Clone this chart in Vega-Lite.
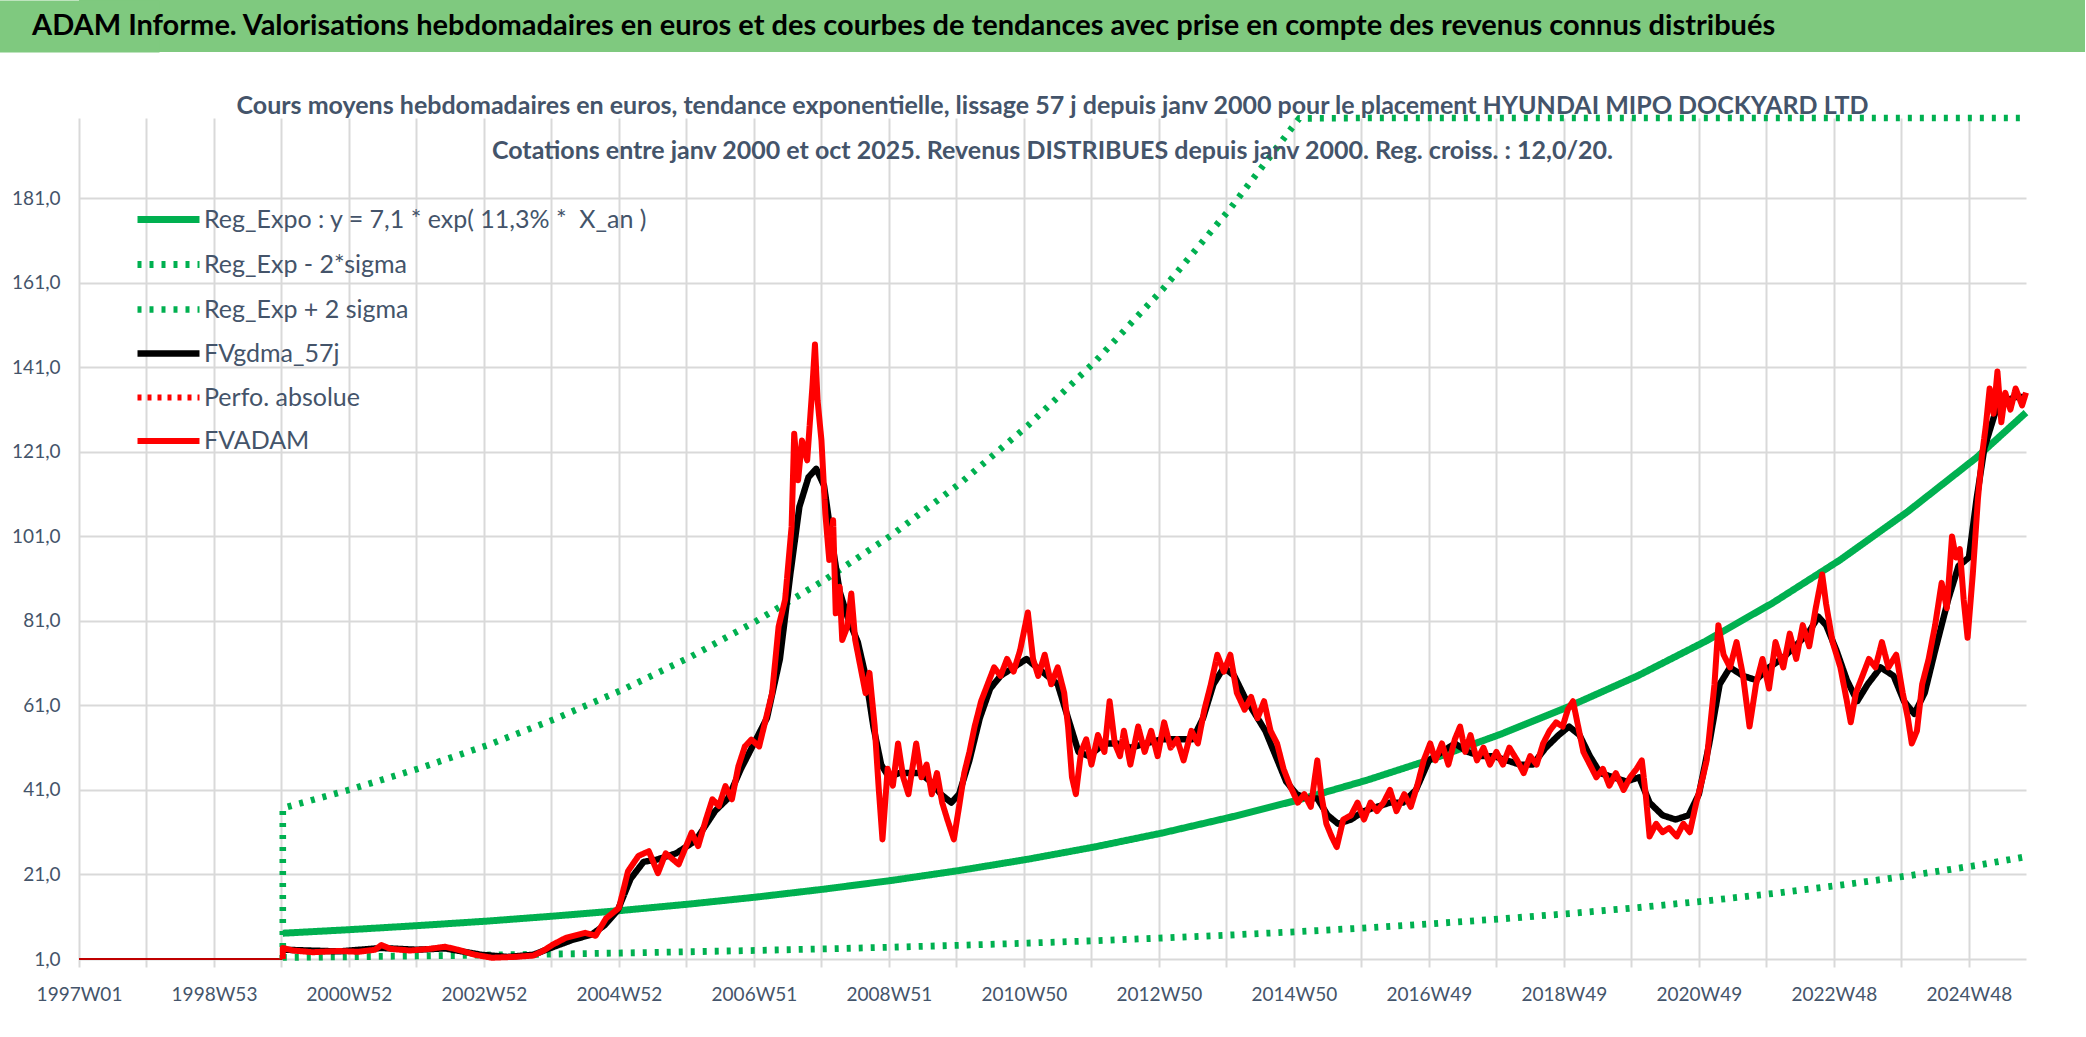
{
  "$schema": "https://vega.github.io/schema/vega-lite/v6.json",
  "background": "white",
  "padding": 0,
  "columns": 1,
  "align": "none",
  "spacing": 41,
  "config": {
    "font": "Lato, sans-serif",
    "view": {"stroke": null}
  },
  "datasets": {
    "base": [{"w": 0, "v": 1}, {"w": 157, "v": 1}],
    "lines": [
      {"s": "Reg_Expo : y = 7,1 * exp( 11,3% * \u00a0X_an )", "w": 157, "v": 7.10},
      {"s": "Reg_Expo : y = 7,1 * exp( 11,3% * \u00a0X_an )", "w": 209, "v": 7.95},
      {"s": "Reg_Expo : y = 7,1 * exp( 11,3% * \u00a0X_an )", "w": 261, "v": 8.90},
      {"s": "Reg_Expo : y = 7,1 * exp( 11,3% * \u00a0X_an )", "w": 314, "v": 9.96},
      {"s": "Reg_Expo : y = 7,1 * exp( 11,3% * \u00a0X_an )", "w": 366, "v": 11.16},
      {"s": "Reg_Expo : y = 7,1 * exp( 11,3% * \u00a0X_an )", "w": 418, "v": 12.49},
      {"s": "Reg_Expo : y = 7,1 * exp( 11,3% * \u00a0X_an )", "w": 470, "v": 13.99},
      {"s": "Reg_Expo : y = 7,1 * exp( 11,3% * \u00a0X_an )", "w": 522, "v": 15.66},
      {"s": "Reg_Expo : y = 7,1 * exp( 11,3% * \u00a0X_an )", "w": 574, "v": 17.53},
      {"s": "Reg_Expo : y = 7,1 * exp( 11,3% * \u00a0X_an )", "w": 627, "v": 19.63},
      {"s": "Reg_Expo : y = 7,1 * exp( 11,3% * \u00a0X_an )", "w": 679, "v": 21.98},
      {"s": "Reg_Expo : y = 7,1 * exp( 11,3% * \u00a0X_an )", "w": 731, "v": 24.61},
      {"s": "Reg_Expo : y = 7,1 * exp( 11,3% * \u00a0X_an )", "w": 783, "v": 27.55},
      {"s": "Reg_Expo : y = 7,1 * exp( 11,3% * \u00a0X_an )", "w": 835, "v": 30.85},
      {"s": "Reg_Expo : y = 7,1 * exp( 11,3% * \u00a0X_an )", "w": 887, "v": 34.54},
      {"s": "Reg_Expo : y = 7,1 * exp( 11,3% * \u00a0X_an )", "w": 940, "v": 38.67},
      {"s": "Reg_Expo : y = 7,1 * exp( 11,3% * \u00a0X_an )", "w": 992, "v": 43.29},
      {"s": "Reg_Expo : y = 7,1 * exp( 11,3% * \u00a0X_an )", "w": 1044, "v": 48.47},
      {"s": "Reg_Expo : y = 7,1 * exp( 11,3% * \u00a0X_an )", "w": 1096, "v": 54.27},
      {"s": "Reg_Expo : y = 7,1 * exp( 11,3% * \u00a0X_an )", "w": 1148, "v": 60.76},
      {"s": "Reg_Expo : y = 7,1 * exp( 11,3% * \u00a0X_an )", "w": 1201, "v": 68.03},
      {"s": "Reg_Expo : y = 7,1 * exp( 11,3% * \u00a0X_an )", "w": 1253, "v": 76.16},
      {"s": "Reg_Expo : y = 7,1 * exp( 11,3% * \u00a0X_an )", "w": 1305, "v": 85.27},
      {"s": "Reg_Expo : y = 7,1 * exp( 11,3% * \u00a0X_an )", "w": 1357, "v": 95.47},
      {"s": "Reg_Expo : y = 7,1 * exp( 11,3% * \u00a0X_an )", "w": 1409, "v": 106.89},
      {"s": "Reg_Expo : y = 7,1 * exp( 11,3% * \u00a0X_an )", "w": 1462, "v": 119.68},
      {"s": "Reg_Expo : y = 7,1 * exp( 11,3% * \u00a0X_an )", "w": 1500, "v": 130.3},

      {"s": "Reg_Exp - 2*sigma", "w": 157, "v": 1.37},
      {"s": "Reg_Exp - 2*sigma", "w": 209, "v": 1.54},
      {"s": "Reg_Exp - 2*sigma", "w": 261, "v": 1.72},
      {"s": "Reg_Exp - 2*sigma", "w": 314, "v": 1.93},
      {"s": "Reg_Exp - 2*sigma", "w": 366, "v": 2.16},
      {"s": "Reg_Exp - 2*sigma", "w": 418, "v": 2.42},
      {"s": "Reg_Exp - 2*sigma", "w": 470, "v": 2.71},
      {"s": "Reg_Exp - 2*sigma", "w": 522, "v": 3.03},
      {"s": "Reg_Exp - 2*sigma", "w": 574, "v": 3.39},
      {"s": "Reg_Exp - 2*sigma", "w": 627, "v": 3.80},
      {"s": "Reg_Exp - 2*sigma", "w": 679, "v": 4.25},
      {"s": "Reg_Exp - 2*sigma", "w": 731, "v": 4.76},
      {"s": "Reg_Exp - 2*sigma", "w": 783, "v": 5.33},
      {"s": "Reg_Exp - 2*sigma", "w": 835, "v": 5.97},
      {"s": "Reg_Exp - 2*sigma", "w": 887, "v": 6.68},
      {"s": "Reg_Exp - 2*sigma", "w": 940, "v": 7.48},
      {"s": "Reg_Exp - 2*sigma", "w": 992, "v": 8.37},
      {"s": "Reg_Exp - 2*sigma", "w": 1044, "v": 9.38},
      {"s": "Reg_Exp - 2*sigma", "w": 1096, "v": 10.50},
      {"s": "Reg_Exp - 2*sigma", "w": 1148, "v": 11.75},
      {"s": "Reg_Exp - 2*sigma", "w": 1201, "v": 13.16},
      {"s": "Reg_Exp - 2*sigma", "w": 1253, "v": 14.73},
      {"s": "Reg_Exp - 2*sigma", "w": 1305, "v": 16.49},
      {"s": "Reg_Exp - 2*sigma", "w": 1357, "v": 18.47},
      {"s": "Reg_Exp - 2*sigma", "w": 1409, "v": 20.67},
      {"s": "Reg_Exp - 2*sigma", "w": 1462, "v": 23.15},
      {"s": "Reg_Exp - 2*sigma", "w": 1500, "v": 25.2},

      {"s": "Reg_Exp + 2 sigma", "w": 157, "v": 1},
      {"s": "Reg_Exp + 2 sigma", "w": 157, "v": 36.7},
      {"s": "Reg_Exp + 2 sigma", "w": 209, "v": 41.1},
      {"s": "Reg_Exp + 2 sigma", "w": 261, "v": 46.0},
      {"s": "Reg_Exp + 2 sigma", "w": 314, "v": 51.5},
      {"s": "Reg_Exp + 2 sigma", "w": 366, "v": 57.7},
      {"s": "Reg_Exp + 2 sigma", "w": 418, "v": 64.6},
      {"s": "Reg_Exp + 2 sigma", "w": 470, "v": 72.3},
      {"s": "Reg_Exp + 2 sigma", "w": 522, "v": 81.0},
      {"s": "Reg_Exp + 2 sigma", "w": 574, "v": 90.6},
      {"s": "Reg_Exp + 2 sigma", "w": 627, "v": 101.5},
      {"s": "Reg_Exp + 2 sigma", "w": 679, "v": 113.6},
      {"s": "Reg_Exp + 2 sigma", "w": 731, "v": 127.2},
      {"s": "Reg_Exp + 2 sigma", "w": 783, "v": 142.4},
      {"s": "Reg_Exp + 2 sigma", "w": 835, "v": 159.5},
      {"s": "Reg_Exp + 2 sigma", "w": 887, "v": 178.6},
      {"s": "Reg_Exp + 2 sigma", "w": 940, "v": 199.9},
      {"s": "Reg_Exp + 2 sigma", "w": 992, "v": 223.8},
      {"s": "Reg_Exp + 2 sigma", "w": 1200, "v": 350},
      {"s": "Reg_Exp + 2 sigma", "w": 1500, "v": 673},

      {"s": "FVgdma_57j", "w": 157, "v": 3.2}, {"s": "FVgdma_57j", "w": 200, "v": 2.8}, {"s": "FVgdma_57j", "w": 233, "v": 3.6},
      {"s": "FVgdma_57j", "w": 260, "v": 3.2}, {"s": "FVgdma_57j", "w": 282, "v": 3.5}, {"s": "FVgdma_57j", "w": 310, "v": 2.0},
      {"s": "FVgdma_57j", "w": 330, "v": 1.5}, {"s": "FVgdma_57j", "w": 350, "v": 2.0}, {"s": "FVgdma_57j", "w": 365, "v": 3.8},
      {"s": "FVgdma_57j", "w": 380, "v": 5.5}, {"s": "FVgdma_57j", "w": 395, "v": 6.8}, {"s": "FVgdma_57j", "w": 405, "v": 9},
      {"s": "FVgdma_57j", "w": 415, "v": 12.5}, {"s": "FVgdma_57j", "w": 425, "v": 20}, {"s": "FVgdma_57j", "w": 435, "v": 24},
      {"s": "FVgdma_57j", "w": 445, "v": 24.5}, {"s": "FVgdma_57j", "w": 460, "v": 26}, {"s": "FVgdma_57j", "w": 475, "v": 29},
      {"s": "FVgdma_57j", "w": 490, "v": 36}, {"s": "FVgdma_57j", "w": 500, "v": 39}, {"s": "FVgdma_57j", "w": 510, "v": 46},
      {"s": "FVgdma_57j", "w": 520, "v": 52}, {"s": "FVgdma_57j", "w": 530, "v": 58}, {"s": "FVgdma_57j", "w": 540, "v": 72},
      {"s": "FVgdma_57j", "w": 548, "v": 92}, {"s": "FVgdma_57j", "w": 555, "v": 108}, {"s": "FVgdma_57j", "w": 562, "v": 115},
      {"s": "FVgdma_57j", "w": 568, "v": 117}, {"s": "FVgdma_57j", "w": 574, "v": 113}, {"s": "FVgdma_57j", "w": 580, "v": 100},
      {"s": "FVgdma_57j", "w": 586, "v": 88}, {"s": "FVgdma_57j", "w": 592, "v": 82}, {"s": "FVgdma_57j", "w": 600, "v": 76},
      {"s": "FVgdma_57j", "w": 606, "v": 68}, {"s": "FVgdma_57j", "w": 612, "v": 56}, {"s": "FVgdma_57j", "w": 618, "v": 47},
      {"s": "FVgdma_57j", "w": 624, "v": 44}, {"s": "FVgdma_57j", "w": 632, "v": 45}, {"s": "FVgdma_57j", "w": 640, "v": 45},
      {"s": "FVgdma_57j", "w": 648, "v": 45}, {"s": "FVgdma_57j", "w": 656, "v": 43}, {"s": "FVgdma_57j", "w": 664, "v": 40},
      {"s": "FVgdma_57j", "w": 672, "v": 38}, {"s": "FVgdma_57j", "w": 678, "v": 40}, {"s": "FVgdma_57j", "w": 686, "v": 48},
      {"s": "FVgdma_57j", "w": 694, "v": 58}, {"s": "FVgdma_57j", "w": 702, "v": 65}, {"s": "FVgdma_57j", "w": 710, "v": 68},
      {"s": "FVgdma_57j", "w": 720, "v": 70}, {"s": "FVgdma_57j", "w": 730, "v": 72}, {"s": "FVgdma_57j", "w": 738, "v": 70},
      {"s": "FVgdma_57j", "w": 746, "v": 68}, {"s": "FVgdma_57j", "w": 754, "v": 66}, {"s": "FVgdma_57j", "w": 762, "v": 58},
      {"s": "FVgdma_57j", "w": 770, "v": 50}, {"s": "FVgdma_57j", "w": 778, "v": 49}, {"s": "FVgdma_57j", "w": 790, "v": 52},
      {"s": "FVgdma_57j", "w": 800, "v": 52}, {"s": "FVgdma_57j", "w": 810, "v": 51}, {"s": "FVgdma_57j", "w": 822, "v": 52},
      {"s": "FVgdma_57j", "w": 834, "v": 53}, {"s": "FVgdma_57j", "w": 846, "v": 53}, {"s": "FVgdma_57j", "w": 858, "v": 53},
      {"s": "FVgdma_57j", "w": 866, "v": 58}, {"s": "FVgdma_57j", "w": 874, "v": 66}, {"s": "FVgdma_57j", "w": 882, "v": 70},
      {"s": "FVgdma_57j", "w": 890, "v": 68}, {"s": "FVgdma_57j", "w": 898, "v": 63}, {"s": "FVgdma_57j", "w": 906, "v": 59},
      {"s": "FVgdma_57j", "w": 914, "v": 55}, {"s": "FVgdma_57j", "w": 922, "v": 49}, {"s": "FVgdma_57j", "w": 930, "v": 43},
      {"s": "FVgdma_57j", "w": 938, "v": 40}, {"s": "FVgdma_57j", "w": 946, "v": 39}, {"s": "FVgdma_57j", "w": 954, "v": 39},
      {"s": "FVgdma_57j", "w": 962, "v": 35}, {"s": "FVgdma_57j", "w": 970, "v": 33}, {"s": "FVgdma_57j", "w": 980, "v": 34},
      {"s": "FVgdma_57j", "w": 990, "v": 36}, {"s": "FVgdma_57j", "w": 1000, "v": 37}, {"s": "FVgdma_57j", "w": 1010, "v": 38},
      {"s": "FVgdma_57j", "w": 1020, "v": 38}, {"s": "FVgdma_57j", "w": 1030, "v": 41}, {"s": "FVgdma_57j", "w": 1040, "v": 48},
      {"s": "FVgdma_57j", "w": 1050, "v": 50}, {"s": "FVgdma_57j", "w": 1060, "v": 52}, {"s": "FVgdma_57j", "w": 1070, "v": 50},
      {"s": "FVgdma_57j", "w": 1080, "v": 49}, {"s": "FVgdma_57j", "w": 1090, "v": 49}, {"s": "FVgdma_57j", "w": 1100, "v": 48},
      {"s": "FVgdma_57j", "w": 1110, "v": 47}, {"s": "FVgdma_57j", "w": 1120, "v": 47}, {"s": "FVgdma_57j", "w": 1130, "v": 51},
      {"s": "FVgdma_57j", "w": 1140, "v": 54}, {"s": "FVgdma_57j", "w": 1148, "v": 56}, {"s": "FVgdma_57j", "w": 1156, "v": 54},
      {"s": "FVgdma_57j", "w": 1164, "v": 49}, {"s": "FVgdma_57j", "w": 1172, "v": 45}, {"s": "FVgdma_57j", "w": 1182, "v": 44},
      {"s": "FVgdma_57j", "w": 1192, "v": 43}, {"s": "FVgdma_57j", "w": 1202, "v": 44}, {"s": "FVgdma_57j", "w": 1210, "v": 38},
      {"s": "FVgdma_57j", "w": 1220, "v": 35}, {"s": "FVgdma_57j", "w": 1230, "v": 34}, {"s": "FVgdma_57j", "w": 1240, "v": 35},
      {"s": "FVgdma_57j", "w": 1248, "v": 40}, {"s": "FVgdma_57j", "w": 1256, "v": 52}, {"s": "FVgdma_57j", "w": 1264, "v": 66},
      {"s": "FVgdma_57j", "w": 1272, "v": 70}, {"s": "FVgdma_57j", "w": 1282, "v": 68}, {"s": "FVgdma_57j", "w": 1292, "v": 67},
      {"s": "FVgdma_57j", "w": 1302, "v": 70}, {"s": "FVgdma_57j", "w": 1312, "v": 72}, {"s": "FVgdma_57j", "w": 1322, "v": 75},
      {"s": "FVgdma_57j", "w": 1332, "v": 78}, {"s": "FVgdma_57j", "w": 1340, "v": 82}, {"s": "FVgdma_57j", "w": 1346, "v": 80},
      {"s": "FVgdma_57j", "w": 1354, "v": 74}, {"s": "FVgdma_57j", "w": 1362, "v": 67}, {"s": "FVgdma_57j", "w": 1370, "v": 62},
      {"s": "FVgdma_57j", "w": 1378, "v": 66}, {"s": "FVgdma_57j", "w": 1388, "v": 70}, {"s": "FVgdma_57j", "w": 1398, "v": 68},
      {"s": "FVgdma_57j", "w": 1406, "v": 62}, {"s": "FVgdma_57j", "w": 1414, "v": 59}, {"s": "FVgdma_57j", "w": 1422, "v": 64},
      {"s": "FVgdma_57j", "w": 1430, "v": 74}, {"s": "FVgdma_57j", "w": 1440, "v": 86}, {"s": "FVgdma_57j", "w": 1448, "v": 94},
      {"s": "FVgdma_57j", "w": 1456, "v": 96}, {"s": "FVgdma_57j", "w": 1462, "v": 110}, {"s": "FVgdma_57j", "w": 1468, "v": 122},
      {"s": "FVgdma_57j", "w": 1476, "v": 130}, {"s": "FVgdma_57j", "w": 1484, "v": 133}, {"s": "FVgdma_57j", "w": 1492, "v": 134},
      {"s": "FVgdma_57j", "w": 1500, "v": 134},

      {"s": "FVADAM", "w": 157, "v": 1}, {"s": "FVADAM", "w": 157, "v": 3.6}, {"s": "FVADAM", "w": 165, "v": 3.0},
      {"s": "FVADAM", "w": 180, "v": 2.6}, {"s": "FVADAM", "w": 200, "v": 2.9}, {"s": "FVADAM", "w": 215, "v": 2.7},
      {"s": "FVADAM", "w": 228, "v": 3.2}, {"s": "FVADAM", "w": 233, "v": 4.3}, {"s": "FVADAM", "w": 240, "v": 3.4},
      {"s": "FVADAM", "w": 255, "v": 3.0}, {"s": "FVADAM", "w": 270, "v": 3.4}, {"s": "FVADAM", "w": 282, "v": 3.9},
      {"s": "FVADAM", "w": 292, "v": 3.2}, {"s": "FVADAM", "w": 305, "v": 2.0}, {"s": "FVADAM", "w": 318, "v": 1.3},
      {"s": "FVADAM", "w": 335, "v": 1.5}, {"s": "FVADAM", "w": 350, "v": 1.8}, {"s": "FVADAM", "w": 358, "v": 3.0},
      {"s": "FVADAM", "w": 365, "v": 4.4}, {"s": "FVADAM", "w": 375, "v": 6.0}, {"s": "FVADAM", "w": 390, "v": 7.2},
      {"s": "FVADAM", "w": 398, "v": 6.5}, {"s": "FVADAM", "w": 406, "v": 10.6}, {"s": "FVADAM", "w": 416, "v": 13.1},
      {"s": "FVADAM", "w": 423, "v": 21.8}, {"s": "FVADAM", "w": 431, "v": 25.4}, {"s": "FVADAM", "w": 439, "v": 26.5},
      {"s": "FVADAM", "w": 446, "v": 21.3}, {"s": "FVADAM", "w": 452, "v": 26}, {"s": "FVADAM", "w": 462, "v": 23.4},
      {"s": "FVADAM", "w": 472, "v": 30.9}, {"s": "FVADAM", "w": 477, "v": 27.7}, {"s": "FVADAM", "w": 483, "v": 34.0},
      {"s": "FVADAM", "w": 488, "v": 38.8}, {"s": "FVADAM", "w": 493, "v": 37.2}, {"s": "FVADAM", "w": 498, "v": 41.9},
      {"s": "FVADAM", "w": 503, "v": 38.8}, {"s": "FVADAM", "w": 508, "v": 46.6}, {"s": "FVADAM", "w": 513, "v": 51.3},
      {"s": "FVADAM", "w": 518, "v": 52.9}, {"s": "FVADAM", "w": 524, "v": 51.3}, {"s": "FVADAM", "w": 529, "v": 57.6},
      {"s": "FVADAM", "w": 534, "v": 63.9}, {"s": "FVADAM", "w": 539, "v": 79.7}, {"s": "FVADAM", "w": 544, "v": 86.0},
      {"s": "FVADAM", "w": 549, "v": 103.3}, {"s": "FVADAM", "w": 551, "v": 125.3}, {"s": "FVADAM", "w": 554, "v": 114.3},
      {"s": "FVADAM", "w": 557, "v": 123.7}, {"s": "FVADAM", "w": 561, "v": 119.0}, {"s": "FVADAM", "w": 565, "v": 136.3},
      {"s": "FVADAM", "w": 567, "v": 146.4}, {"s": "FVADAM", "w": 569, "v": 133.2}, {"s": "FVADAM", "w": 572, "v": 123.7},
      {"s": "FVADAM", "w": 575, "v": 106.4}, {"s": "FVADAM", "w": 578, "v": 95.4}, {"s": "FVADAM", "w": 581, "v": 104.8},
      {"s": "FVADAM", "w": 583, "v": 82.8}, {"s": "FVADAM", "w": 586, "v": 89.1}, {"s": "FVADAM", "w": 588, "v": 76.5},
      {"s": "FVADAM", "w": 592, "v": 79.7}, {"s": "FVADAM", "w": 595, "v": 87.5}, {"s": "FVADAM", "w": 598, "v": 76.5},
      {"s": "FVADAM", "w": 602, "v": 70.2}, {"s": "FVADAM", "w": 606, "v": 63.9}, {"s": "FVADAM", "w": 609, "v": 68.7},
      {"s": "FVADAM", "w": 613, "v": 56.1}, {"s": "FVADAM", "w": 616, "v": 41.9}, {"s": "FVADAM", "w": 619, "v": 29.3},
      {"s": "FVADAM", "w": 623, "v": 46}, {"s": "FVADAM", "w": 627, "v": 42}, {"s": "FVADAM", "w": 631, "v": 52},
      {"s": "FVADAM", "w": 635, "v": 44}, {"s": "FVADAM", "w": 639, "v": 40}, {"s": "FVADAM", "w": 645, "v": 52},
      {"s": "FVADAM", "w": 649, "v": 44}, {"s": "FVADAM", "w": 653, "v": 47}, {"s": "FVADAM", "w": 657, "v": 40},
      {"s": "FVADAM", "w": 661, "v": 45}, {"s": "FVADAM", "w": 665, "v": 38}, {"s": "FVADAM", "w": 669, "v": 34},
      {"s": "FVADAM", "w": 674, "v": 29.3}, {"s": "FVADAM", "w": 678, "v": 37}, {"s": "FVADAM", "w": 682, "v": 45},
      {"s": "FVADAM", "w": 686, "v": 50}, {"s": "FVADAM", "w": 690, "v": 56}, {"s": "FVADAM", "w": 695, "v": 62},
      {"s": "FVADAM", "w": 700, "v": 66}, {"s": "FVADAM", "w": 705, "v": 70}, {"s": "FVADAM", "w": 710, "v": 68},
      {"s": "FVADAM", "w": 715, "v": 72}, {"s": "FVADAM", "w": 720, "v": 69}, {"s": "FVADAM", "w": 725, "v": 74},
      {"s": "FVADAM", "w": 731, "v": 83}, {"s": "FVADAM", "w": 735, "v": 72}, {"s": "FVADAM", "w": 739, "v": 68},
      {"s": "FVADAM", "w": 744, "v": 73}, {"s": "FVADAM", "w": 749, "v": 66}, {"s": "FVADAM", "w": 754, "v": 70},
      {"s": "FVADAM", "w": 759, "v": 64}, {"s": "FVADAM", "w": 762, "v": 56}, {"s": "FVADAM", "w": 765, "v": 44},
      {"s": "FVADAM", "w": 768, "v": 40}, {"s": "FVADAM", "w": 772, "v": 50}, {"s": "FVADAM", "w": 776, "v": 53},
      {"s": "FVADAM", "w": 780, "v": 47}, {"s": "FVADAM", "w": 785, "v": 54}, {"s": "FVADAM", "w": 790, "v": 50},
      {"s": "FVADAM", "w": 794, "v": 62}, {"s": "FVADAM", "w": 798, "v": 52}, {"s": "FVADAM", "w": 802, "v": 49},
      {"s": "FVADAM", "w": 805, "v": 55}, {"s": "FVADAM", "w": 810, "v": 47}, {"s": "FVADAM", "w": 816, "v": 56},
      {"s": "FVADAM", "w": 821, "v": 50}, {"s": "FVADAM", "w": 826, "v": 55}, {"s": "FVADAM", "w": 831, "v": 49},
      {"s": "FVADAM", "w": 836, "v": 57}, {"s": "FVADAM", "w": 841, "v": 51}, {"s": "FVADAM", "w": 846, "v": 53},
      {"s": "FVADAM", "w": 851, "v": 48}, {"s": "FVADAM", "w": 857, "v": 55}, {"s": "FVADAM", "w": 862, "v": 52},
      {"s": "FVADAM", "w": 867, "v": 60}, {"s": "FVADAM", "w": 872, "v": 66}, {"s": "FVADAM", "w": 877, "v": 73},
      {"s": "FVADAM", "w": 882, "v": 69}, {"s": "FVADAM", "w": 887, "v": 73}, {"s": "FVADAM", "w": 892, "v": 64},
      {"s": "FVADAM", "w": 898, "v": 60}, {"s": "FVADAM", "w": 903, "v": 63}, {"s": "FVADAM", "w": 908, "v": 58},
      {"s": "FVADAM", "w": 913, "v": 62}, {"s": "FVADAM", "w": 918, "v": 55}, {"s": "FVADAM", "w": 923, "v": 52},
      {"s": "FVADAM", "w": 928, "v": 46}, {"s": "FVADAM", "w": 933, "v": 42}, {"s": "FVADAM", "w": 939, "v": 38},
      {"s": "FVADAM", "w": 944, "v": 40}, {"s": "FVADAM", "w": 949, "v": 37}, {"s": "FVADAM", "w": 954, "v": 48},
      {"s": "FVADAM", "w": 957, "v": 40}, {"s": "FVADAM", "w": 961, "v": 33}, {"s": "FVADAM", "w": 965, "v": 30},
      {"s": "FVADAM", "w": 969, "v": 27.5}, {"s": "FVADAM", "w": 974, "v": 34}, {"s": "FVADAM", "w": 980, "v": 35},
      {"s": "FVADAM", "w": 985, "v": 38}, {"s": "FVADAM", "w": 990, "v": 34}, {"s": "FVADAM", "w": 995, "v": 38},
      {"s": "FVADAM", "w": 1000, "v": 36}, {"s": "FVADAM", "w": 1005, "v": 38}, {"s": "FVADAM", "w": 1010, "v": 41},
      {"s": "FVADAM", "w": 1015, "v": 36}, {"s": "FVADAM", "w": 1021, "v": 40}, {"s": "FVADAM", "w": 1026, "v": 37},
      {"s": "FVADAM", "w": 1031, "v": 42}, {"s": "FVADAM", "w": 1036, "v": 48}, {"s": "FVADAM", "w": 1041, "v": 52},
      {"s": "FVADAM", "w": 1045, "v": 48}, {"s": "FVADAM", "w": 1050, "v": 52}, {"s": "FVADAM", "w": 1055, "v": 47},
      {"s": "FVADAM", "w": 1060, "v": 53}, {"s": "FVADAM", "w": 1064, "v": 56}, {"s": "FVADAM", "w": 1068, "v": 50},
      {"s": "FVADAM", "w": 1072, "v": 54}, {"s": "FVADAM", "w": 1077, "v": 48}, {"s": "FVADAM", "w": 1082, "v": 51},
      {"s": "FVADAM", "w": 1087, "v": 47}, {"s": "FVADAM", "w": 1092, "v": 50}, {"s": "FVADAM", "w": 1097, "v": 47},
      {"s": "FVADAM", "w": 1102, "v": 51}, {"s": "FVADAM", "w": 1108, "v": 48}, {"s": "FVADAM", "w": 1113, "v": 45},
      {"s": "FVADAM", "w": 1118, "v": 49}, {"s": "FVADAM", "w": 1123, "v": 47}, {"s": "FVADAM", "w": 1128, "v": 52},
      {"s": "FVADAM", "w": 1133, "v": 55}, {"s": "FVADAM", "w": 1138, "v": 57}, {"s": "FVADAM", "w": 1143, "v": 56},
      {"s": "FVADAM", "w": 1147, "v": 60}, {"s": "FVADAM", "w": 1151, "v": 62}, {"s": "FVADAM", "w": 1155, "v": 56},
      {"s": "FVADAM", "w": 1159, "v": 50}, {"s": "FVADAM", "w": 1164, "v": 47}, {"s": "FVADAM", "w": 1169, "v": 44},
      {"s": "FVADAM", "w": 1174, "v": 46}, {"s": "FVADAM", "w": 1179, "v": 42}, {"s": "FVADAM", "w": 1184, "v": 45},
      {"s": "FVADAM", "w": 1190, "v": 41}, {"s": "FVADAM", "w": 1195, "v": 44}, {"s": "FVADAM", "w": 1200, "v": 46},
      {"s": "FVADAM", "w": 1204, "v": 48}, {"s": "FVADAM", "w": 1207, "v": 40}, {"s": "FVADAM", "w": 1210, "v": 30},
      {"s": "FVADAM", "w": 1215, "v": 33}, {"s": "FVADAM", "w": 1220, "v": 31}, {"s": "FVADAM", "w": 1225, "v": 32},
      {"s": "FVADAM", "w": 1231, "v": 30}, {"s": "FVADAM", "w": 1236, "v": 33}, {"s": "FVADAM", "w": 1241, "v": 31},
      {"s": "FVADAM", "w": 1246, "v": 38}, {"s": "FVADAM", "w": 1251, "v": 44}, {"s": "FVADAM", "w": 1254, "v": 48},
      {"s": "FVADAM", "w": 1260, "v": 66}, {"s": "FVADAM", "w": 1263, "v": 80}, {"s": "FVADAM", "w": 1267, "v": 73},
      {"s": "FVADAM", "w": 1272, "v": 70}, {"s": "FVADAM", "w": 1277, "v": 76}, {"s": "FVADAM", "w": 1282, "v": 68},
      {"s": "FVADAM", "w": 1287, "v": 56}, {"s": "FVADAM", "w": 1292, "v": 66}, {"s": "FVADAM", "w": 1297, "v": 72},
      {"s": "FVADAM", "w": 1302, "v": 65}, {"s": "FVADAM", "w": 1307, "v": 76}, {"s": "FVADAM", "w": 1313, "v": 70},
      {"s": "FVADAM", "w": 1318, "v": 78}, {"s": "FVADAM", "w": 1323, "v": 72}, {"s": "FVADAM", "w": 1328, "v": 80},
      {"s": "FVADAM", "w": 1333, "v": 75}, {"s": "FVADAM", "w": 1338, "v": 84}, {"s": "FVADAM", "w": 1343, "v": 92},
      {"s": "FVADAM", "w": 1346, "v": 85}, {"s": "FVADAM", "w": 1351, "v": 76}, {"s": "FVADAM", "w": 1357, "v": 70},
      {"s": "FVADAM", "w": 1362, "v": 62}, {"s": "FVADAM", "w": 1365, "v": 57}, {"s": "FVADAM", "w": 1369, "v": 64},
      {"s": "FVADAM", "w": 1374, "v": 68}, {"s": "FVADAM", "w": 1379, "v": 72}, {"s": "FVADAM", "w": 1384, "v": 70},
      {"s": "FVADAM", "w": 1389, "v": 76}, {"s": "FVADAM", "w": 1394, "v": 70}, {"s": "FVADAM", "w": 1400, "v": 73},
      {"s": "FVADAM", "w": 1405, "v": 64}, {"s": "FVADAM", "w": 1409, "v": 58}, {"s": "FVADAM", "w": 1412, "v": 52},
      {"s": "FVADAM", "w": 1416, "v": 55}, {"s": "FVADAM", "w": 1420, "v": 66}, {"s": "FVADAM", "w": 1425, "v": 72},
      {"s": "FVADAM", "w": 1430, "v": 80}, {"s": "FVADAM", "w": 1435, "v": 90}, {"s": "FVADAM", "w": 1439, "v": 84},
      {"s": "FVADAM", "w": 1443, "v": 101}, {"s": "FVADAM", "w": 1446, "v": 96}, {"s": "FVADAM", "w": 1449, "v": 98},
      {"s": "FVADAM", "w": 1452, "v": 86}, {"s": "FVADAM", "w": 1455, "v": 77}, {"s": "FVADAM", "w": 1459, "v": 92},
      {"s": "FVADAM", "w": 1463, "v": 110}, {"s": "FVADAM", "w": 1466, "v": 120}, {"s": "FVADAM", "w": 1469, "v": 127},
      {"s": "FVADAM", "w": 1472, "v": 136}, {"s": "FVADAM", "w": 1475, "v": 130}, {"s": "FVADAM", "w": 1478, "v": 140},
      {"s": "FVADAM", "w": 1481, "v": 128}, {"s": "FVADAM", "w": 1484, "v": 135}, {"s": "FVADAM", "w": 1488, "v": 131},
      {"s": "FVADAM", "w": 1492, "v": 136}, {"s": "FVADAM", "w": 1497, "v": 132}, {"s": "FVADAM", "w": 1500, "v": 135}
    ]
  },
  "concat": [
    {
      "width": 2006,
      "height": 52,
      "view": {"fill": "#7FC97F", "stroke": null},
      "data": {"values": [{"t": "ADAM Informe. Valorisations hebdomadaires en euros et des courbes de tendances avec prise en compte des revenus connus distribués"}]},
      "mark": {"type": "text", "align": "left", "baseline": "middle", "dx": -47, "fontSize": 29, "fontWeight": "bold", "color": "#000000"},
      "encoding": {
        "text": {"field": "t"},
        "x": {"datum": 0, "type": "quantitative", "scale": {"domain": [0, 1]}, "axis": null},
        "y": {
          "datum": 0, "type": "quantitative", "scale": {"domain": [-1, 1]},
          "axis": {"title": null, "labels": false, "ticks": false, "grid": false, "domainColor": "#7FC97F", "domainWidth": 160}
        }
      }
    },
    {
      "width": 1947,
      "height": 841,
      "title": {
        "text": ["Cours moyens hebdomadaires en euros, tendance exponentielle, lissage 57 j depuis janv 2000 pour le placement HYUNDAI MIPO DOCKYARD LTD", "Cotations entre janv 2000 et oct 2025. Revenus DISTRIBUES depuis janv 2000. Reg. croiss. : 12,0/20."],
        "anchor": "middle",
        "frame": "group",
        "fontSize": 25,
        "fontWeight": "bold",
        "color": "#44546A",
        "lineHeight": 45,
        "offset": -59
      },
      "encoding": {
        "x": {
          "field": "w", "type": "quantitative",
          "scale": {"domain": [0, 1500], "nice": false, "zero": false},
          "axis": {
            "title": null,
            "values": [0, 52, 104, 156, 208, 260, 312, 364, 416, 468, 520, 572, 624, 676, 728, 780, 832, 884, 936, 988, 1040, 1092, 1144, 1196, 1248, 1300, 1352, 1404, 1456],
            "labelExpr": "datum.value % 104 == 0 ? ['1997W01','1998W53','2000W52','2002W52','2004W52','2006W51','2008W51','2010W50','2012W50','2014W50','2016W49','2018W49','2020W49','2022W48','2024W48'][datum.value / 104] : ''",
            "domain": false,
            "grid": true, "gridColor": "#D9D9D9", "gridWidth": 2,
            "ticks": true, "tickColor": "#D9D9D9", "tickWidth": 2, "tickSize": 8,
            "labelFontSize": 19, "labelColor": "#44546A", "labelPadding": 18, "labelFlush": false
          }
        },
        "y": {
          "field": "v", "type": "quantitative",
          "scale": {"domain": [1, 200], "nice": false, "zero": false, "clamp": true},
          "axis": {
            "title": null,
            "values": [1, 21, 41, 61, 81, 101, 121, 141, 161, 181],
            "labelExpr": "replace(format(datum.value, '.1f'), '.', ',')",
            "domain": false, "ticks": false,
            "grid": true, "gridColor": "#D9D9D9", "gridWidth": 2,
            "labelFontSize": 19, "labelColor": "#44546A", "labelPadding": 19,
            "minExtent": 79, "maxExtent": 79
          }
        },
        "color": {
          "field": "s", "type": "nominal",
          "scale": {
            "domain": ["Reg_Expo : y = 7,1 * exp( 11,3% * \u00a0X_an )", "Reg_Exp - 2*sigma", "Reg_Exp + 2 sigma", "FVgdma_57j", "Perfo. absolue", "FVADAM"],
            "range": ["#00B050", "#00B050", "#00B050", "#000000", "#FF0000", "#FF0000"]
          },
          "legend": {"orient": "none", "legendX": 66, "legendY": 196, "title": null, "symbolType": "M-1.55,0H1.55", "symbolSize": 1600, "labelFontSize": 25, "labelColor": "#44546A", "rowPadding": 7, "labelOffset": 12, "labelLimit": 700}
        },
        "strokeDash": {
          "field": "s", "type": "nominal",
          "scale": {
            "domain": ["Reg_Expo : y = 7,1 * exp( 11,3% * \u00a0X_an )", "Reg_Exp - 2*sigma", "Reg_Exp + 2 sigma", "FVgdma_57j", "Perfo. absolue", "FVADAM"],
            "range": [[1, 0], [4, 8], [4, 8], [1, 0], [4, 6], [1, 0]]
          },
          "legend": {"orient": "none", "legendX": 66, "legendY": 196, "title": null, "symbolType": "M-1.55,0H1.55", "symbolSize": 1600, "labelFontSize": 25, "labelColor": "#44546A", "rowPadding": 7, "labelOffset": 12, "labelLimit": 700}
        },
        "strokeWidth": {
          "field": "s", "type": "nominal",
          "scale": {
            "domain": ["Reg_Expo : y = 7,1 * exp( 11,3% * \u00a0X_an )", "Reg_Exp - 2*sigma", "Reg_Exp + 2 sigma", "FVgdma_57j", "Perfo. absolue", "FVADAM"],
            "range": [7, 6, 6, 5, 4, 6]
          },
          "legend": {"orient": "none", "legendX": 66, "legendY": 196, "title": null, "symbolType": "M-1.55,0H1.55", "symbolSize": 1600, "labelFontSize": 25, "labelColor": "#44546A", "rowPadding": 7, "labelOffset": 12, "labelLimit": 700}
        }
      },
      "layer": [
        {
          "data": {"name": "base"},
          "mark": {"type": "line"},
          "encoding": {"color": {"value": "#C00000"}, "strokeDash": {"value": [1, 0]}, "strokeWidth": {"value": 2}}
        },
        {
          "data": {"name": "lines"},
          "transform": [{"filter": {"field": "s", "equal": "Reg_Expo : y = 7,1 * exp( 11,3% * \u00a0X_an )"}}],
          "mark": {"type": "line", "strokeJoin": "round"}
        },
        {
          "data": {"name": "lines"},
          "transform": [{"filter": {"field": "s", "oneOf": ["Reg_Exp - 2*sigma", "Reg_Exp + 2 sigma"]}}],
          "mark": {"type": "line"}
        },
        {
          "data": {"name": "lines"},
          "transform": [{"filter": {"field": "s", "equal": "FVgdma_57j"}}],
          "mark": {"type": "line", "strokeJoin": "round"}
        },
        {
          "data": {"name": "lines"},
          "transform": [{"filter": {"field": "s", "equal": "FVADAM"}}],
          "mark": {"type": "line", "strokeJoin": "round"}
        }
      ]
    }
  ]
}
